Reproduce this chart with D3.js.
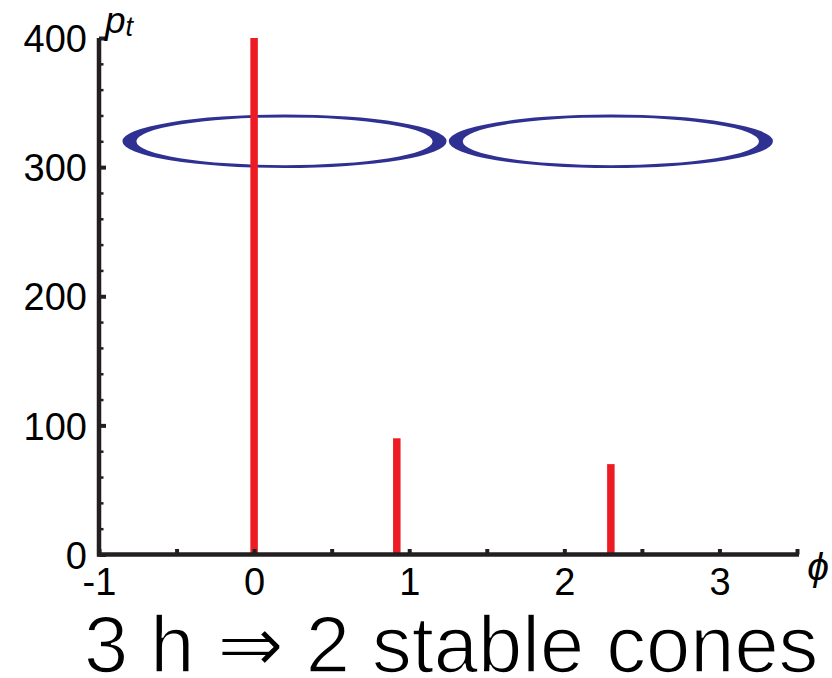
<!DOCTYPE html>
<html>
<head>
<meta charset="utf-8">
<script src="https://cdn.jsdelivr.net/npm/d3@7"></script>
<style>
  body { margin: 0; background: #fff; }
  text { font-family: "Liberation Sans", Arial, Helvetica, sans-serif; }
</style>
</head>
<body>
<svg id="chart" width="832" height="678"></svg>
<script>
// Axis ticks
const phiLabelTicks = [-1, 0, 1, 2, 3];
const phiTicks = [-1, -0.5, 0, 0.5, 1, 1.5, 2, 2.5, 3, 3.5];
const pLabelTicks = [0, 100, 200, 300, 400];
const pMinorTicks = [20, 40, 60, 80, 120, 140, 160, 180, 220, 240, 260, 280, 320, 340, 360, 380];

// Peaks of the distribution p_t over phi
const peakPhi = [0, 0.92, 2.3];
const peakP = [400, 90, 70];

// Stable cones, drawn as rings (outer/inner ellipse radii in data units)
const conePhi = [0.196, 2.3];
const coneP = [320, 320];
const coneOuterRPhi = [1.045, 1.045];
const coneInnerRPhi = [0.955, 0.955];
const coneOuterRP = [20.7, 20.7];
const coneInnerRP = [18.5, 18.5];

const titleText = "3 h \u21D2 2 stable cones";

const INK = "#231f20";
const RED = "#ed1c24";
const BLUE = "#2e3192";

const svg = d3.select("#chart");

const x = d3.scaleLinear().domain([-1, 3.5]).range([99, 797]);
const y = d3.scaleLinear().domain([0, 400]).range([554.5, 38]);

// Cone rings: outer and inner ellipse filled with even-odd rule
function ellipseSub(cx, cy, rx, ry) {
  return `M${cx - rx},${cy}A${rx},${ry} 0 1 0 ${cx + rx},${cy}A${rx},${ry} 0 1 0 ${cx - rx},${cy}Z`;
}
svg.append("g").selectAll("path")
  .data(conePhi.map((c, i) => i))
  .join("path")
  .attr("fill", BLUE)
  .attr("fill-rule", "evenodd")
  .attr("d", i => {
    const cx = x(conePhi[i]), cy = y(coneP[i]);
    const orx = x(conePhi[i] + coneOuterRPhi[i]) - cx;
    const irx = x(conePhi[i] + coneInnerRPhi[i]) - cx;
    const ory = cy - y(coneP[i] + coneOuterRP[i]);
    const iry = cy - y(coneP[i] + coneInnerRP[i]);
    return ellipseSub(cx, cy, orx, ory) + ellipseSub(cx, cy, irx, iry);
  });

// Peaks
svg.append("g").selectAll("line")
  .data(peakPhi.map((p, i) => i))
  .join("line")
  .attr("x1", i => x(peakPhi[i]))
  .attr("x2", i => x(peakPhi[i]))
  .attr("y1", y(0))
  .attr("y2", i => y(peakP[i]))
  .attr("stroke", RED)
  .attr("stroke-width", 7.5);

// Y axis: inward ticks, labels on the left
const yMajor = svg.append("g")
  .attr("transform", `translate(${x(-1)},0)`)
  .call(d3.axisRight(y).tickValues(pLabelTicks).tickSize(7).tickFormat(""));
yMajor.select(".domain").remove();
yMajor.selectAll("line").attr("stroke", INK).attr("stroke-width", 4);

const yMinor = svg.append("g")
  .attr("transform", `translate(${x(-1)},0)`)
  .call(d3.axisRight(y).tickValues(pMinorTicks).tickSize(4.5).tickFormat(""));
yMinor.select(".domain").remove();
yMinor.selectAll("line").attr("stroke", INK).attr("stroke-width", 2.5);

const yLabels = svg.append("g")
  .attr("transform", `translate(${x(-1)},0)`)
  .call(d3.axisLeft(y).tickValues(pLabelTicks).tickSize(0).tickPadding(12).tickFormat(d3.format("d")));
yLabels.select(".domain").remove();
yLabels.selectAll("text")
  .attr("font-family", "Liberation Sans, Arial, sans-serif")
  .attr("font-size", 38)
  .attr("fill", "#000")
  .attr("dy", "0.36em");

// X axis: upward ticks every 0.5
const xMajor = svg.append("g")
  .attr("transform", `translate(0,${y(0)})`)
  .call(d3.axisTop(x).tickValues(phiTicks).tickSize(5.5).tickFormat(""));
xMajor.select(".domain").remove();
xMajor.selectAll("line").attr("stroke", INK).attr("stroke-width", 4);

const xLabels = svg.append("g")
  .attr("transform", `translate(0,${y(0)})`)
  .call(d3.axisBottom(x).tickValues(phiLabelTicks).tickSize(0).tickPadding(14).tickFormat(d3.format("d")));
xLabels.select(".domain").remove();
xLabels.selectAll("text")
  .attr("font-family", "Liberation Sans, Arial, sans-serif")
  .attr("font-size", 38)
  .attr("fill", "#000")
  .attr("dy", "0.71em")
  .text(d => d < 0 ? "-" + Math.abs(d) : d);

// Axis lines
svg.append("line")
  .attr("x1", x(-1)).attr("x2", x(-1))
  .attr("y1", y(400)).attr("y2", y(0) + 2)
  .attr("stroke", INK).attr("stroke-width", 4.5);
svg.append("line")
  .attr("x1", x(-1) - 2).attr("x2", x(3.5) + 2)
  .attr("y1", y(0)).attr("y2", y(0))
  .attr("stroke", INK).attr("stroke-width", 4.5);

// Axis titles
const pt = svg.append("text")
  .attr("x", 105).attr("y", 32.5)
  .attr("font-family", "Liberation Serif, Times New Roman, serif")
  .attr("font-style", "italic")
  .attr("font-size", 37)
  .attr("fill", "#000");
pt.append("tspan").text("p");
pt.append("tspan").attr("font-size", 27).attr("dy", 3).text("t");

svg.append("text")
  .attr("x", 818).attr("y", 580)
  .attr("text-anchor", "middle")
  .attr("font-family", "Liberation Serif, Times New Roman, serif")
  .attr("font-style", "italic")
  .attr("font-size", 39)
  .attr("fill", "#000")
  .text("\u03D5");

// Caption (a thin white outline gives a lighter stroke weight)
svg.append("text")
  .attr("x", 84).attr("y", 672)
  .attr("font-size", 79.5)
  .attr("fill", "#000")
  .attr("stroke", "#fff")
  .attr("stroke-width", 1.6)
  .text(titleText);
</script>
</body>
</html>
